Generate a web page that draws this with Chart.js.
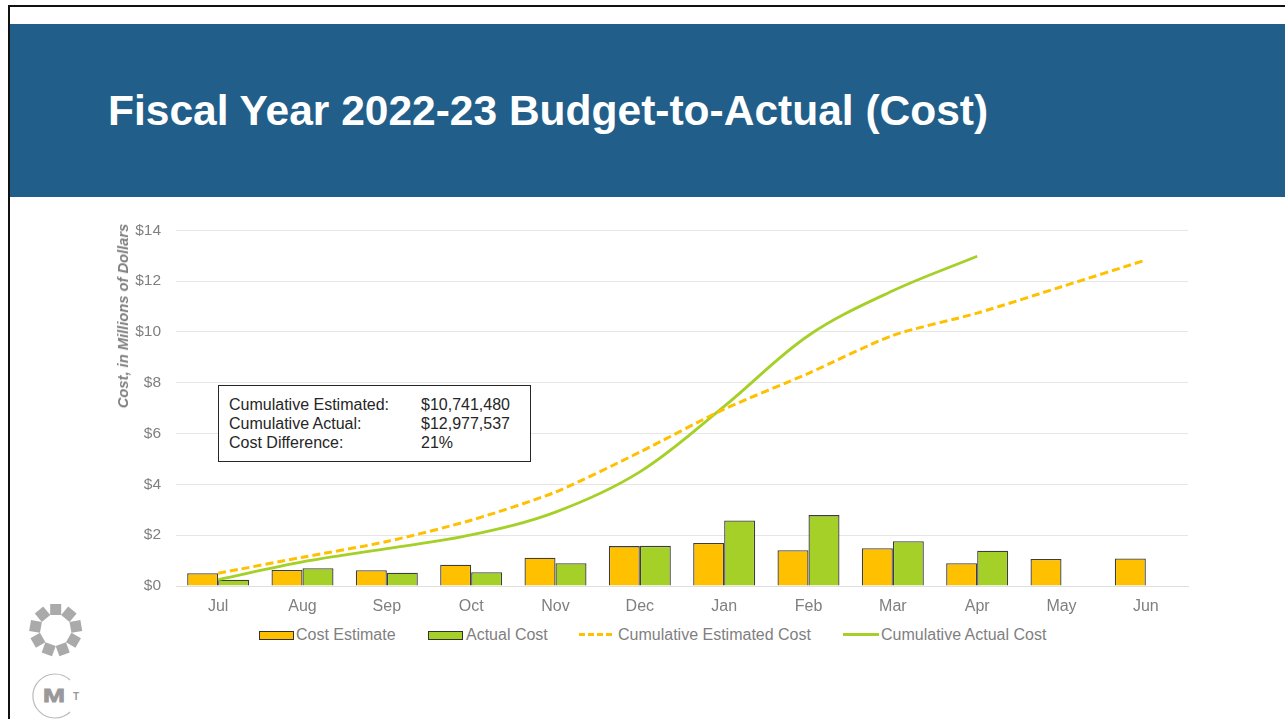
<!DOCTYPE html>
<html>
<head>
<meta charset="utf-8">
<title>Fiscal Year 2022-23 Budget-to-Actual (Cost)</title>
<script src="https://cdn.jsdelivr.net/npm/chart.js@4"></script>
<style>
  html, body { margin: 0; padding: 0; background: #fff; overflow: hidden; }
  body { width: 1285px; height: 719px; position: relative; font-family: "Liberation Sans", Arial, sans-serif; }
  .abs { position: absolute; white-space: nowrap; }
  #frameTop { left: 8px; top: 5px; width: 1277px; height: 2px; background: #111; }
  #frameLeft { left: 8px; top: 5px; width: 2px; height: 714px; background: #111; }
  #band { left: 10px; top: 24px; width: 1275px; height: 173px; background: #215f8a; }
  #title { left: 108px; top: 86px; line-height: 50px; font-size: 42.5px; font-weight: bold; color: #fff; }
  #axisTitle { left: 123px; top: 316px; font-size: 14.7px; font-weight: bold; font-style: italic; color: #7f7f7f;
               transform: translate(-50%, -50%) rotate(-90deg); }
  #wrap { left: 100px; top: 206px; width: 1090px; height: 414px; }
  #note { left: 218px; top: 385px; width: 311px; height: 75px; box-sizing: content-box; background: #fff;
          border: 1px solid #262626; font-size: 16px; line-height: 19px; color: #262626; }
  #note span { position: absolute; left: 10px; }
  #note span.v { left: 202px; }
  .leg { top: 626px; font-size: 16px; line-height: 18px; color: #7f7f7f; }
  .swatch { top: 631px; width: 33px; height: 7px; border: 1px solid #333; }
  .ln { top: 633px; height: 0; border-top: 3px solid; }
</style>
</head>
<body>
<div class="abs" id="frameTop"></div>
<div class="abs" id="frameLeft"></div>
<div class="abs" id="band"></div>
<div class="abs" id="title">Fiscal Year 2022-23 Budget-to-Actual (Cost)</div>

<div class="abs" id="wrap"><canvas id="grafico"></canvas></div>
<div class="abs" id="axisTitle">Cost, in Millions of Dollars</div>

<div class="abs" id="note">
  <span style="top:9px">Cumulative Estimated:</span><span class="v" style="top:9px">$10,741,480</span>
  <span style="top:28px">Cumulative Actual:</span><span class="v" style="top:28px">$12,977,537</span>
  <span style="top:47px">Cost Difference:</span><span class="v" style="top:47px">21%</span>
</div>

<div class="abs swatch" style="left:259px;background:#ffc000"></div>
<div class="abs leg" style="left:296px">Cost Estimate</div>
<div class="abs swatch" style="left:428px;background:#a5d027"></div>
<div class="abs leg" style="left:466px">Actual Cost</div>
<div class="abs ln" style="left:579px;width:33px;border-top-style:dashed;border-color:#ffc000"></div>
<div class="abs leg" style="left:618px">Cumulative Estimated Cost</div>
<div class="abs ln" style="left:843px;width:36px;border-color:#a5d027"></div>
<div class="abs leg" style="left:881px">Cumulative Actual Cost</div>

<svg class="abs" style="left:20px;top:595px" width="80" height="124" viewBox="20 595 80 124">
  <g id="gear" fill="#aaa"></g>
  <path d="M 70 680 A 22 22 0 1 0 70 712" fill="none" stroke="#bbb" stroke-width="1.2"/>
  <text x="54" y="702" text-anchor="middle" font-family="Liberation Sans" font-size="19" font-weight="bold" fill="#999" stroke="#999" stroke-width="0.8" textLength="22" lengthAdjust="spacingAndGlyphs">M</text>
  <text x="76" y="700" text-anchor="middle" font-family="Liberation Sans" font-size="10" font-weight="bold" fill="#999">T</text>
</svg>

<script>
var months = ['Jul', 'Aug', 'Sep', 'Oct', 'Nov', 'Dec', 'Jan', 'Feb', 'Mar', 'Apr', 'May', 'Jun'];
var costEstimate = [0.50, 0.63, 0.62, 0.84, 1.11, 1.57, 1.69, 1.41, 1.49, 0.90, 1.06, 1.08];
var actualCost = [0.25, 0.70, 0.52, 0.54, 0.90, 1.58, 2.58, 2.79, 1.76, 1.39, null, null];
var cumulativeEstimated = [0.50, 1.13, 1.75, 2.59, 3.70, 5.27, 6.96, 8.37, 9.86, 10.74, 11.78, 12.83];
var cumulativeActual = [0.25, 0.95, 1.47, 2.01, 2.91, 4.49, 7.07, 9.86, 11.62, 12.98, null, null];

var gear = document.getElementById('gear');
for (var i = 0; i < 9; i++) {
    var r = document.createElementNS('http://www.w3.org/2000/svg', 'rect');
    r.setAttribute('x', 50.2); r.setAttribute('y', 604); r.setAttribute('width', 11); r.setAttribute('height', 11);
    r.setAttribute('transform', 'rotate(' + (i * 40) + ' 55.7 630)');
    gear.appendChild(r);
}

var ctx = document.getElementById('grafico').getContext('2d');
var grafico = new Chart(ctx, {
    type: 'bar',
    data: {
        labels: months,
        datasets: [
            {
                label: 'Cost Estimate',
                data: costEstimate,
                backgroundColor: '#ffc000',
                borderColor: '#3d3d3d',
                borderWidth: 1.3,
                categoryPercentage: 0.735,
                barPercentage: 1,
                order: 2
            },
            {
                label: 'Actual Cost',
                data: actualCost,
                backgroundColor: '#a5d027',
                borderColor: '#3d3d3d',
                borderWidth: 1.3,
                categoryPercentage: 0.735,
                barPercentage: 1,
                order: 2
            },
            {
                type: 'line',
                label: 'Cumulative Estimated Cost',
                data: cumulativeEstimated,
                borderColor: '#ffc000',
                borderWidth: 3,
                borderDash: [8, 4],
                pointRadius: 0,
                tension: 0.25,
                order: 1
            },
            {
                type: 'line',
                label: 'Cumulative Actual Cost',
                data: cumulativeActual,
                borderColor: '#a5d027',
                borderWidth: 2.8,
                pointRadius: 0,
                tension: 0.35,
                order: 1
            }
        ]
    },
    options: {
        responsive: true,
        maintainAspectRatio: false,
        animation: false,
        layout: { padding: { left: 0, right: 2, top: 0, bottom: 0 } },
        plugins: { legend: { display: false }, tooltip: { enabled: false } },
        scales: {
            x: {
                grid: { display: false },
                border: { color: '#e0e0e0' },
                ticks: { color: '#7f7f7f', font: { family: 'Liberation Sans', size: 16 }, padding: 3, maxRotation: 0 },
                afterFit: function (s) { s.height = 34; }
            },
            y: {
                min: 0,
                max: 14,
                grid: { color: '#e6e6e6', drawTicks: false },
                border: { display: false },
                ticks: {
                    stepSize: 2,
                    padding: 15,
                    color: '#7f7f7f',
                    font: { family: 'Liberation Sans', size: 15.5 },
                    callback: function (v) { return '$' + v; }
                },
                afterFit: function (s) { s.width = 76; }
            }
        }
    }
});
</script>
</body>
</html>
